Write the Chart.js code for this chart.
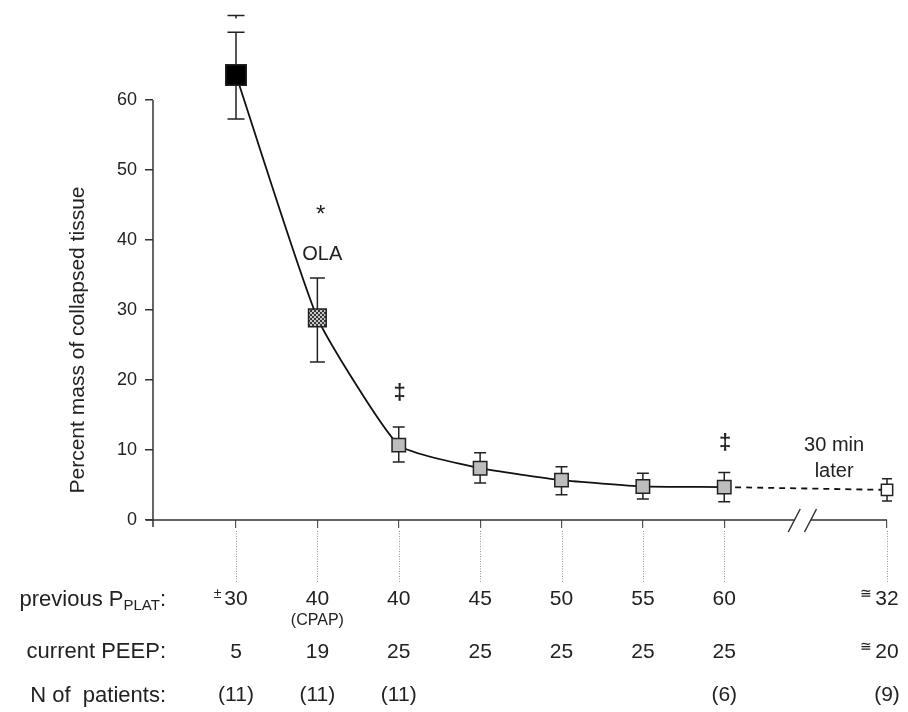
<!DOCTYPE html>
<html>
<head>
<meta charset="utf-8">
<script src="https://cdn.jsdelivr.net/npm/chart.js@4.4.1/dist/chart.umd.min.js"></script>
<style>
  body { margin: 0; background: #fff; }
  canvas { display: block; }
</style>
</head>
<body>
<canvas id="collapseChart" width="908" height="712"></canvas>
<script>
// Step positions on the x axis (7 is the axis break, 8 = 30 min later)
const steps = [0, 1, 2, 3, 4, 5, 6, 8];
const meanCollapse = [63.6, 28.9, 10.7, 7.4, 5.7, 4.8, 4.7, 4.3];
const upperCollapse = [69.7, 34.6, 13.3, 9.6, 7.6, 6.7, 6.8, 5.9];
const lowerCollapse = [57.3, 22.6, 8.3, 5.3, 3.6, 3.0, 2.6, 2.7];
const extraUpper = [72.1, null, null, null, null, null, null, null];
const yTicks = [0, 10, 20, 30, 40, 50, 60];

// Table rows under the chart
const pplatPrefix = ['±', '', '', '', '', '', '', '≅'];
const prevPplat = ['30', '40', '40', '45', '50', '55', '60', '32'];
const pplatNote = ['', '(CPAP)', '', '', '', '', '', ''];
const peepPrefix = ['', '', '', '', '', '', '', '≅'];
const currentPeep = ['5', '19', '25', '25', '25', '25', '25', '20'];
const nPatients = ['(11)', '(11)', '(11)', '', '', '', '(6)', '(9)'];

const FONT = '"Liberation Sans", Arial, sans-serif';

// marker look per point
const markerRadius = [14.5, 12.5, 9.5, 9.5, 9.5, 9.5, 9.5, 8];
const capHalf = [8.5, 7.5, 6, 6, 6, 6, 6, 5];

// text notes placed in data coordinates
const notes = [
  { text: '*', x: 1.04, y: 43.6, size: 24 },
  { text: 'OLA', x: 1.06, y: 37.9, size: 20 },
  { text: '‡', x: 2.01, y: 18.1, size: 22, bold: true },
  { text: '‡', x: 6.01, y: 11.0, size: 22, bold: true },
  { text: '30 min', x: 7.35, y: 10.7, size: 20 },
  { text: 'later', x: 7.35, y: 6.9, size: 20 }
];

// checkered fill for the CPAP point
function checkerPattern(ctx) {
  const c = document.createElement('canvas');
  c.width = 4; c.height = 4;
  const g = c.getContext('2d');
  g.fillStyle = '#c8c8c8';
  g.fillRect(0, 0, 4, 4);
  g.fillStyle = '#383838';
  g.fillRect(0, 0, 2, 2);
  g.fillRect(2, 2, 2, 2);
  return ctx.createPattern(c, 'repeat');
}

// error bars behind the markers
const errorBars = {
  id: 'errorBars',
  beforeDatasetsDraw(chart) {
    const { ctx, scales: { x, y } } = chart;
    ctx.save();
    ctx.strokeStyle = '#222';
    ctx.lineWidth = 1.5;
    steps.forEach((s, i) => {
      const px = x.getPixelForValue(s);
      const top = y.getPixelForValue(upperCollapse[i]);
      const bot = y.getPixelForValue(lowerCollapse[i]);
      const w = capHalf[i];
      ctx.beginPath();
      ctx.moveTo(px, top); ctx.lineTo(px, bot);
      ctx.moveTo(px - w, top); ctx.lineTo(px + w, top);
      ctx.moveTo(px - w, bot); ctx.lineTo(px + w, bot);
      if (extraUpper[i] != null) {
        const e = y.getPixelForValue(extraUpper[i]);
        ctx.moveTo(px - w, e); ctx.lineTo(px + w, e);
        ctx.moveTo(px, e); ctx.lineTo(px, e + 3);
      }
      ctx.stroke();
    });
    ctx.restore();
  }
};

// axes (y stops at 60, x has a // break), guide lines, table and notes
const overlay = {
  id: 'overlay',
  beforeDatasetsDraw(chart) {
    const { ctx, chartArea: area, scales: { x, y } } = chart;
    const axisY = y.getPixelForValue(0);
    const b1 = x.getPixelForValue(6.86);
    const b2 = x.getPixelForValue(7.06);
    ctx.save();
    ctx.strokeStyle = '#333';
    ctx.lineWidth = 1.5;
    ctx.beginPath();
    ctx.moveTo(area.left, y.getPixelForValue(60));
    ctx.lineTo(area.left, axisY + 7);
    ctx.moveTo(area.left - 7, axisY); ctx.lineTo(b1, axisY);
    ctx.moveTo(b2, axisY); ctx.lineTo(area.right, axisY);
    ctx.moveTo(b1 - 6, axisY + 12); ctx.lineTo(b1 + 6, axisY - 11);
    ctx.moveTo(b2 - 6, axisY + 12); ctx.lineTo(b2 + 6, axisY - 11);
    ctx.stroke();
    ctx.restore();
  },
  afterDraw(chart) {
    const { ctx, scales: { x, y } } = chart;
    const axisY = y.getPixelForValue(0);
    ctx.save();

    // dotted guide lines down to the table
    ctx.strokeStyle = '#999';
    ctx.lineWidth = 1;
    ctx.setLineDash([1, 1.5]);
    steps.forEach(s => {
      const px = Math.round(x.getPixelForValue(s)) + 0.5;
      ctx.beginPath();
      ctx.moveTo(px, axisY + 11);
      ctx.lineTo(px, axisY + 62);
      ctx.stroke();
    });
    ctx.setLineDash([]);

    // y axis title
    ctx.fillStyle = '#222';
    ctx.save();
    ctx.translate(78, 340);
    ctx.rotate(-Math.PI / 2);
    ctx.font = '21px ' + FONT;
    ctx.textAlign = 'center';
    ctx.textBaseline = 'middle';
    ctx.fillText('Percent mass of collapsed tissue', 0, 0);
    ctx.restore();

    // row labels
    const labelRight = 166;
    ctx.textBaseline = 'middle';
    ctx.font = '22px ' + FONT;
    const wMain = ctx.measureText('previous P').width;
    const wColon = ctx.measureText(':').width;
    ctx.font = '15px ' + FONT;
    const wSub = ctx.measureText('PLAT').width;
    const lx = labelRight - wMain - wSub - wColon;
    ctx.textAlign = 'left';
    ctx.font = '22px ' + FONT;
    ctx.fillText('previous P', lx, 600);
    ctx.font = '15px ' + FONT;
    ctx.fillText('PLAT', lx + wMain, 606);
    ctx.font = '22px ' + FONT;
    ctx.fillText(':', lx + wMain + wSub, 600);
    ctx.textAlign = 'right';
    ctx.fillText('current PEEP:', labelRight, 652);
    ctx.fillText('N of  patients:', labelRight, 696);

    // table values
    const rowValue = (txt, prefix, px, py) => {
      ctx.font = '21px ' + FONT;
      ctx.textAlign = 'center';
      ctx.fillText(txt, px, py);
      if (prefix) {
        const w = ctx.measureText(txt).width;
        ctx.font = '14px ' + FONT;
        ctx.textAlign = 'right';
        ctx.fillText(prefix, px - w / 2 - 3, py - 5);
      }
    };
    steps.forEach((s, i) => {
      const px = x.getPixelForValue(s);
      rowValue(prevPplat[i], pplatPrefix[i], px, 599);
      if (pplatNote[i]) {
        ctx.font = '16px ' + FONT;
        ctx.textAlign = 'center';
        ctx.fillText(pplatNote[i], px, 621);
      }
      rowValue(currentPeep[i], peepPrefix[i], px, 652);
      if (nPatients[i]) rowValue(nPatients[i], '', px, 695);
    });

    // notes on the plot
    ctx.textAlign = 'center';
    notes.forEach(n => {
      ctx.font = (n.bold ? 'bold ' : '') + n.size + 'px ' + FONT;
      ctx.fillText(n.text, x.getPixelForValue(n.x), y.getPixelForValue(n.y));
    });
    ctx.restore();
  }
};

const canvas = document.getElementById('collapseChart');
const ctx = canvas.getContext('2d');

new Chart(ctx, {
  type: 'line',
  data: {
    datasets: [{
      data: steps.map((s, i) => ({ x: s, y: meanCollapse[i] })),
      borderColor: '#111',
      borderWidth: 1.8,
      tension: 0.15,
      segment: {
        borderDash: c => (c.p1DataIndex === steps.length - 1 ? [6, 5] : undefined)
      },
      pointStyle: 'rect',
      pointRadius: markerRadius,
      pointBackgroundColor: ['#000', checkerPattern(ctx), '#bdbdbd', '#bdbdbd', '#bdbdbd', '#bdbdbd', '#bdbdbd', '#fff'],
      pointBorderColor: '#222',
      pointBorderWidth: 1.5,
      clip: false
    }]
  },
  options: {
    responsive: false,
    animation: false,
    layout: { padding: { left: 0, right: 21, top: 1.5, bottom: 192 } },
    plugins: { legend: { display: false }, tooltip: { enabled: false } },
    scales: {
      x: {
        type: 'linear',
        min: -1.02,
        max: 8,
        afterBuildTicks: s => { s.ticks = steps.map(v => ({ value: v })); },
        afterFit: s => { s.height = 0; },
        ticks: { display: false },
        grid: { drawOnChartArea: false, tickLength: 8, color: '#555', lineWidth: 1.2 },
        border: { display: false }
      },
      y: {
        min: 0,
        max: 71.64,
        afterBuildTicks: s => { s.ticks = yTicks.map(v => ({ value: v })); },
        afterFit: s => { s.width = 153; },
        ticks: { font: { family: FONT, size: 18 }, color: '#222', padding: 8 },
        grid: { drawOnChartArea: false, tickLength: 8, color: '#333', lineWidth: 1.5 },
        border: { display: false }
      }
    }
  },
  plugins: [errorBars, overlay]
});
</script>
</body>
</html>
